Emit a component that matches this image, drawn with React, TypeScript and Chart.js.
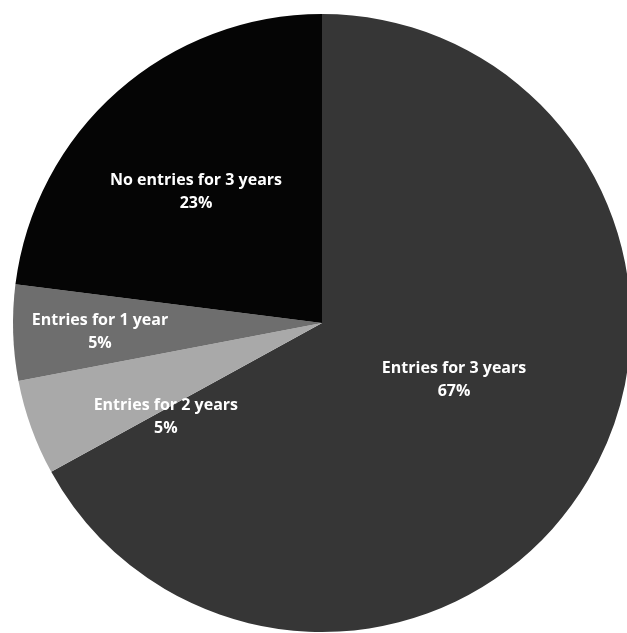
import React, { useEffect, useRef } from "react";
import { Chart, registerables } from "chart.js";

Chart.register(...registerables);

const categories = [
  "Entries for 3 years",
  "Entries for 2 years",
  "Entries for 1 year",
  "No entries for 3 years",
];
const shares = [67, 5, 5, 23];
const sliceColors = ["#363636", "#a9a9a9", "#6e6e6e", "#050505"];

// label placement: radius fraction and angular shift (degrees) from slice mid-angle
const labelPlacement = [
  { r: 0.466, shift: -7.1 },
  { r: 0.589, shift: -11.1 },
  { r: 0.719, shift: -0.4 },
  { r: 0.589, shift: -2.4 },
];

const labelPlugin = {
  id: "sliceLabels",
  afterDatasetsDraw(chart: any) {
    const { ctx } = chart;
    const meta = chart.getDatasetMeta(0);
    ctx.save();
    ctx.fillStyle = "#ffffff";
    ctx.font = "bold 16px 'Open Sans', sans-serif";
    ctx.textAlign = "center";
    ctx.textBaseline = "middle";
    meta.data.forEach((arc: any, i: number) => {
      const p = arc.getProps(["x", "y", "startAngle", "endAngle", "outerRadius"], true);
      const mid = (p.startAngle + p.endAngle) / 2 + (labelPlacement[i].shift * Math.PI) / 180;
      const rr = p.outerRadius * labelPlacement[i].r;
      const cx = p.x + Math.cos(mid) * rr;
      const cy = p.y + Math.sin(mid) * rr;
      ctx.fillText(categories[i], cx, cy - 11.5);
      ctx.fillText(shares[i] + "%", cx, cy + 11.5);
    });
    ctx.restore();
  },
};

export default function App() {
  const ref = useRef<HTMLCanvasElement>(null);
  useEffect(() => {
    document.body.style.margin = "0";
    document.body.style.overflow = "hidden";
    const chart = new Chart(ref.current as HTMLCanvasElement, {
      type: "pie",
      data: {
        labels: categories,
        datasets: [
          {
            data: shares,
            backgroundColor: sliceColors,
            borderWidth: 0,
          },
        ],
      },
      options: {
        responsive: false,
        animation: false,
        layout: { padding: 13 },
        plugins: {
          legend: { display: false },
          tooltip: { enabled: false },
        },
      },
      plugins: [labelPlugin],
    });
    return () => chart.destroy();
  }, []);
  return (
    <div style={{ width: 627, height: 633, overflow: "hidden", background: "#fff" }}>
      <canvas ref={ref} width={644} height={646} />
    </div>
  );
}
